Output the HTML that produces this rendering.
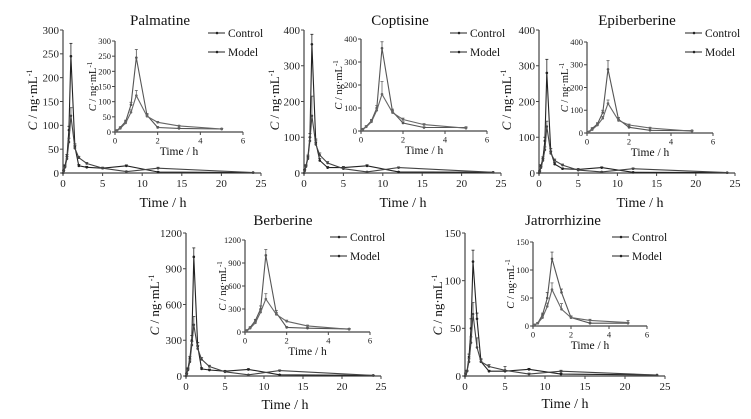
<!DOCTYPE html>
<html><head><meta charset="utf-8">
<style>
html,body{margin:0;padding:0;background:#fff;}
svg, svg text{font-family:"Liberation Serif","DejaVu Serif",serif;}
</style></head>
<body>
<svg id="fig" width="751" height="414" viewBox="0 0 751 414" font-family="Liberation Serif, serif" xmlns="http://www.w3.org/2000/svg"></svg>
<script>
// ---- data ----
const timePoints = [0,0.083,0.25,0.5,0.75,1,1.5,2,3,5,8,12,24];
const palControl = [0,5,15,35,90,245,55,15,12,10,15,2,1];
const palModel   = [0,4,12,30,65,120,52,32,20,10,3,10,1];
const palCtrlErr = [0,1,2,4,8,27,6,3,2,2,2,1,0];
const palModErr  = [0,1,2,4,8,17,6,3,2,2,1,2,0];
const copControl = [0,8,20,45,100,360,85,35,15,15,20,3,2];
const copModel   = [0,6,18,40,90,160,80,50,28,12,3,15,2];
const copCtrlErr = [0,2,3,5,10,28,10,5,3,3,3,1,0];
const copModErr  = [0,2,3,5,10,55,10,6,4,3,1,2,0];
const epiControl = [0,5,20,40,90,280,60,25,12,10,15,2,1];
const epiModel   = [0,4,15,35,65,130,55,35,22,8,3,12,1];
const epiCtrlErr = [0,1,3,5,10,38,8,4,2,2,2,1,0];
const epiModErr  = [0,1,3,5,8,15,6,4,3,2,1,2,0];
const berControl = [0,20,60,150,300,1000,250,60,50,40,55,10,5];
const berModel   = [0,15,50,120,260,430,230,140,80,35,10,45,5];
const berCtrlErr = [0,4,8,15,40,75,30,10,8,6,6,3,1];
const berModErr  = [0,4,8,15,30,70,25,15,10,6,3,6,1];
const jatControl = [0,2,5,20,50,120,60,15,5,5,7,2,1];
const jatModel   = [0,2,5,15,35,65,30,15,10,6,2,5,1];
const jatCtrlErr = [0,1,1,3,10,12,6,3,1,1,1,1,0];
const jatModErr  = [0,1,1,3,6,12,10,2,2,4,1,1,0];
const mainXTicks = [0,5,10,15,20,25];
const insetXTicks = [0,2,4,6];
const palYTicks = [0,50,100,150,200,250,300];
const copYTicks = [0,100,200,300,400];
const epiYTicks = [0,100,200,300,400];
const berYTicks = [0,300,600,900,1200];
const jatYTicks = [0,50,100,150];
const panelNames = ["Palmatine","Coptisine","Epiberberine","Berberine","Jatrorrhizine"];

// ---- layout (pixel geometry, not data) ----
const layouts = [
 {key:"palmatine",ctrl:palControl,mod:palModel,ce:palCtrlErr,me:palModErr,yt:palYTicks,
  m:{x0:63,x1:261,y0:173,y1:30},i:{x0:115,x1:243,y0:132,y1:41},title:[160,20],leg:[208,33],ylab:[33,100],xlab:[163,203]},
 {key:"coptisine",ctrl:copControl,mod:copModel,ce:copCtrlErr,me:copModErr,yt:copYTicks,
  m:{x0:304,x1:501,y0:173,y1:30},i:{x0:361,x1:487,y0:131,y1:39},title:[400,20],leg:[450,33],ylab:[275,100],xlab:[403,203]},
 {key:"epiberberine",ctrl:epiControl,mod:epiModel,ce:epiCtrlErr,me:epiModErr,yt:epiYTicks,
  m:{x0:539,x1:735,y0:173,y1:30},i:{x0:587,x1:713,y0:133,y1:42},title:[637,20],leg:[685,33],ylab:[507,100],xlab:[640,203]},
 {key:"berberine",ctrl:berControl,mod:berModel,ce:berCtrlErr,me:berModErr,yt:berYTicks,
  m:{x0:186,x1:381,y0:376,y1:233},i:{x0:245,x1:370,y0:332,y1:240},title:[283,220],leg:[330,237],ylab:[155,305],xlab:[285,405]},
 {key:"jatrorrhizine",ctrl:jatControl,mod:jatModel,ce:jatCtrlErr,me:jatModErr,yt:jatYTicks,
  m:{x0:465,x1:665,y0:376,y1:233},i:{x0:533,x1:647,y0:326,y1:242},title:[563,220],leg:[612,237],ylab:[438,305],xlab:[565,404]}
];

const svg = document.getElementById('fig');
const NS = "http://www.w3.org/2000/svg";
const FONT = '"Liberation Serif", serif';
function el(tag, attrs, parent, text){
  const e = document.createElementNS(NS, tag);
  for (const k in attrs) e.setAttribute(k, attrs[k]);
  if (tag === 'text') e.style.fontFamily = FONT;
  if (text !== undefined) e.textContent = text;
  parent.appendChild(e);
  return e;
}

function drawAxes(g, box, xmax, xticks, ymax, yticks, fs, inset){
  const sx = v => box.x0 + (v/xmax)*(box.x1-box.x0);
  const sy = v => box.y0 - (v/ymax)*(box.y0-box.y1);
  const ax = el('g',{}, g);
  
  
  el('line',{x1:box.x0,y1:box.y0,x2:box.x1,y2:box.y0,stroke:'#444','stroke-width':1.2}, ax);
  el('line',{x1:box.x0,y1:box.y0,x2:box.x0,y2:box.y1,stroke:'#444','stroke-width':1.2}, ax);
  xticks.forEach(t=>{
    el('line',{x1:sx(t),y1:box.y0,x2:sx(t),y2:box.y0+3,stroke:'#444'}, ax);
    const tl = el('text',{x:sx(t),y:box.y0+fs+3,'text-anchor':'middle','font-size':fs,fill:'#222'}, ax, String(t));
    
    
  });
  yticks.forEach(t=>{
    el('line',{x1:box.x0-3,y1:sy(t),x2:box.x0,y2:sy(t),stroke:'#444'}, ax);
    const tl = el('text',{x:box.x0-4,y:sy(t)+fs*0.35,'text-anchor':'end','font-size':fs,fill:'#222'}, ax, String(t));
    
    
  });
  return {sx, sy};
}

function drawSeries(g, s, vals, errs, tmax, color, name){
  const sg = el('g',{}, g);
  
  
  let pts = [];
  timePoints.forEach((t,i)=>{
    if (t > tmax) return;
    const x = s.sx(t), y = s.sy(vals[i]);
    pts.push(x.toFixed(1)+','+y.toFixed(1));
    const ye = s.sy(vals[i]+errs[i]);
    if (errs[i] > 0){
      el('line',{x1:x,y1:y,x2:x,y2:ye,stroke:color,'stroke-width':0.8}, sg);
      el('line',{x1:x-1.5,y1:ye,x2:x+1.5,y2:ye,stroke:color,'stroke-width':0.8}, sg);
    }
  });
  el('polyline',{points:pts.join(' '),fill:'none',stroke:color,'stroke-width':1.1}, sg);
  timePoints.forEach((t,i)=>{
    if (t > tmax) return;
    const dot = el('circle',{cx:s.sx(t),cy:s.sy(vals[i]),r:1.3,fill:color}, sg);
    
    
  });
}

layouts.forEach((L, idx)=>{
  const g = el('g',{}, svg);
  
  
  const ymax = L.yt[L.yt.length-1];
  const tt = el('text',{x:L.title[0],y:L.title[1]+5,'text-anchor':'middle','font-size':15,fill:'#111'}, g, panelNames[idx]);
  
  
  const ms = drawAxes(g, L.m, 25, mainXTicks, ymax, L.yt, 11, false);
  drawSeries(g, ms, L.ctrl, L.ce, 25, '#222', L.key+'-control-line');
  drawSeries(g, ms, L.mod, L.me, 25, '#444', L.key+'-model-line');
  const yl = el('text',{x:0,y:0,'text-anchor':'middle','font-size':13,fill:'#111',
    transform:`translate(${L.ylab[0]+4},${L.ylab[1]}) rotate(-90)`}, g);
  
  
  el('tspan',{'font-style':'italic'}, yl, 'C');
  el('tspan',{}, yl, ' / ng·mL');
  el('tspan',{'font-size':8,dy:-5}, yl, '-1');
  const xl = el('text',{x:L.xlab[0],y:L.xlab[1]+4,'text-anchor':'middle','font-size':14,fill:'#111'}, g, 'Time / h');
  
  
  const ig = el('g',{}, g);
  
  
  const is = drawAxes(ig, L.i, 6, insetXTicks, ymax, L.yt, 8.5, true);
  drawSeries(ig, is, L.ctrl, L.ce, 6, '#555', L.key+'-inset-control-line');
  drawSeries(ig, is, L.mod, L.me, 6, '#666', L.key+'-inset-model-line');
  const iyl = el('text',{x:0,y:0,'text-anchor':'middle','font-size':10.5,fill:'#111',
    transform:`translate(${L.i.x0-19},${(L.i.y0+L.i.y1)/2}) rotate(-90)`}, ig);
  
  
  el('tspan',{'font-style':'italic'}, iyl, 'C');
  el('tspan',{}, iyl, ' / ng·mL');
  el('tspan',{'font-size':7,dy:-4}, iyl, '-1');
  const ixl = el('text',{x:(L.i.x0+L.i.x1)/2,y:L.i.y0+23,'text-anchor':'middle','font-size':11.5,fill:'#111'}, ig, 'Time / h');
  
  
  const lg = el('g',{}, g);
  
  
  [['Control',0],['Model',19]].forEach(([lab,dy])=>{
    const y = L.leg[1]+dy;
    el('line',{x1:L.leg[0],y1:y,x2:L.leg[0]+17,y2:y,stroke:'#222','stroke-width':1}, lg);
    el('circle',{cx:L.leg[0]+9,cy:y,r:1.3,fill:'#222'}, lg);
    const lt = el('text',{x:L.leg[0]+20,y:y+4,'font-size':11.5,fill:'#111'}, lg, lab);
    
    
  });
});
</script>
</body></html>
